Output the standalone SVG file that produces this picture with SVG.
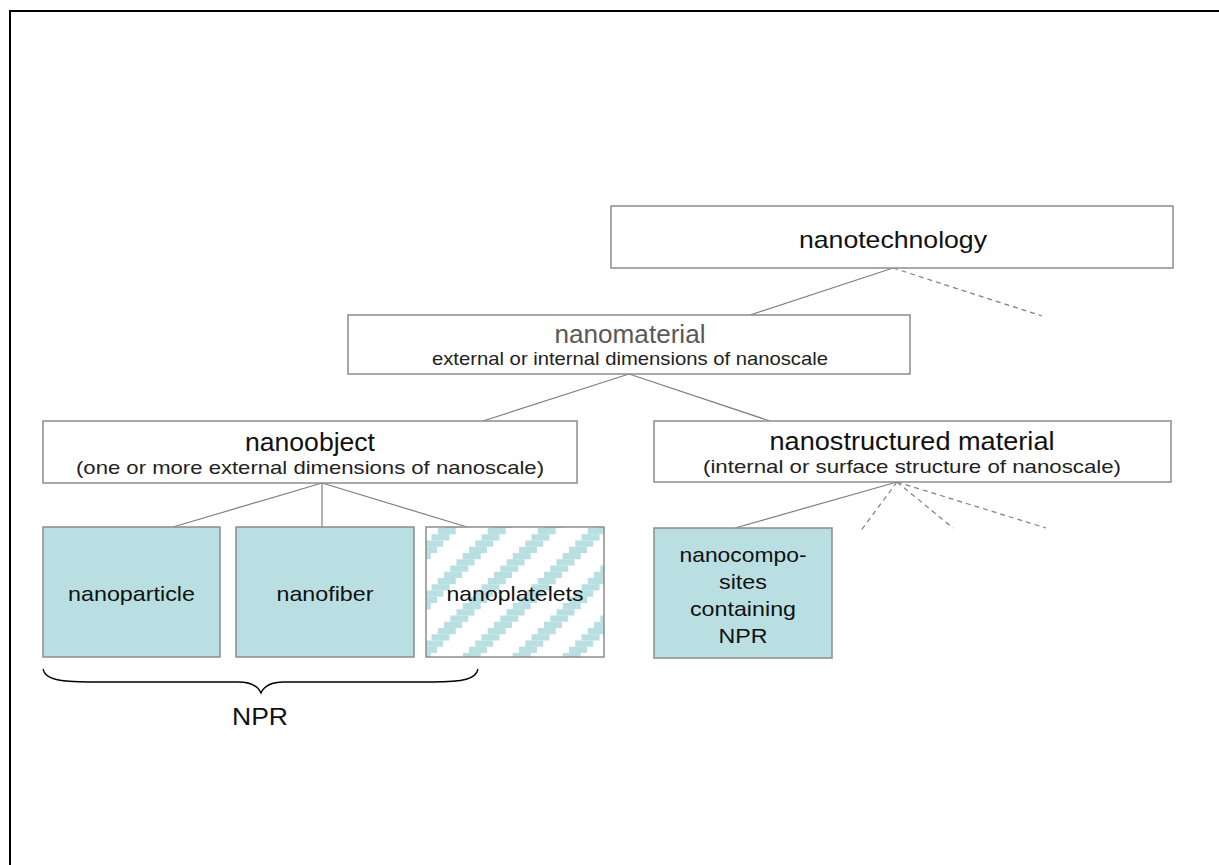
<svg xmlns="http://www.w3.org/2000/svg" width="1219" height="865" viewBox="0 0 1219 865">
  <style>
    text { font-family: "Liberation Sans", Arial, sans-serif; fill: #111; text-anchor: middle; }
    .box { fill: #ffffff; stroke: #8c8c8c; stroke-width: 1.5; }
    .blue { fill: #b9dfe2; stroke: #8c8c8c; stroke-width: 1.5; }
    .hatch { fill: url(#stair); stroke: #8c8c8c; stroke-width: 1.5; }
    .conn { stroke: #7f7f7f; stroke-width: 1.2; fill: none; }
    .dash { stroke: #7f7f7f; stroke-width: 1.2; fill: none; stroke-dasharray: 5 4; }
    .title { font-size: 24px; }
    .sub { font-size: 18.5px; fill: #222; }
    .lbl { font-size: 21px; }
  </style>
  <defs>
    <pattern id="stair" patternUnits="userSpaceOnUse" x="444" y="528" width="50" height="50">
      <rect x="0" y="0" width="50" height="50" fill="#ffffff"/>
      <g fill="#b9dfe2">
        <rect x="0" y="43.75" width="18" height="6.25"/>
        <rect x="6.25" y="37.5" width="18" height="6.25"/>
        <rect x="12.5" y="31.25" width="18" height="6.25"/>
        <rect x="18.75" y="25" width="18" height="6.25"/>
        <rect x="25" y="18.75" width="18" height="6.25"/>
        <rect x="31.25" y="12.5" width="18" height="6.25"/>
        <rect x="37.5" y="6.25" width="12.5" height="6.25"/>
        <rect x="0" y="6.25" width="5.5" height="6.25"/>
        <rect x="43.75" y="0" width="6.25" height="6.25"/>
        <rect x="0" y="0" width="11.75" height="6.25"/>
      </g>
    </pattern>
  </defs>

  <rect x="0" y="0" width="1219" height="865" fill="#ffffff"/>
  <g id="frame" stroke="#000" stroke-width="2" fill="none">
    <line x1="9" y1="11" x2="1219" y2="11"/>
    <line x1="10" y1="10" x2="10" y2="865"/>
  </g>

  <g id="connectors">
    <line class="conn" x1="893" y1="268" x2="750" y2="315"/>
    <line class="dash" x1="893" y1="268" x2="1042" y2="316"/>
    <line class="conn" x1="629" y1="374" x2="483" y2="421"/>
    <line class="conn" x1="629" y1="374" x2="770" y2="421"/>
    <line class="conn" x1="322" y1="483" x2="173" y2="527"/>
    <line class="conn" x1="322" y1="483" x2="322" y2="527"/>
    <line class="conn" x1="322" y1="483" x2="467" y2="527"/>
    <line class="conn" x1="897" y1="482" x2="735" y2="528"/>
    <line class="dash" x1="897" y1="482" x2="860" y2="532"/>
    <line class="dash" x1="897" y1="482" x2="953" y2="528"/>
    <line class="dash" x1="897" y1="482" x2="1046" y2="528"/>
  </g>

  <g id="nanotechnology">
    <rect class="box" x="611" y="206" width="562" height="62"/>
    <text class="title" x="893" y="248" textLength="188" lengthAdjust="spacingAndGlyphs">nanotechnology</text>
  </g>

  <g id="nanomaterial">
    <rect class="box" x="348" y="315" width="562" height="59"/>
    <text x="630" y="343" style="font-size:26px;fill:#595959" textLength="151" lengthAdjust="spacingAndGlyphs">nanomaterial</text>
    <text class="sub" x="630" y="365" textLength="396" lengthAdjust="spacingAndGlyphs">external or internal dimensions of nanoscale</text>
  </g>

  <g id="nanoobject">
    <rect class="box" x="43" y="421" width="534" height="62"/>
    <text class="title" x="310" y="451" style="font-size:25px" textLength="130" lengthAdjust="spacingAndGlyphs">nanoobject</text>
    <text class="sub" x="310" y="474" textLength="468" lengthAdjust="spacingAndGlyphs">(one or more external dimensions of nanoscale)</text>
  </g>

  <g id="nanostructured">
    <rect class="box" x="654" y="421" width="517" height="61"/>
    <text class="title" x="912" y="450" style="font-size:25px" textLength="285" lengthAdjust="spacingAndGlyphs">nanostructured material</text>
    <text class="sub" x="912" y="473" textLength="418" lengthAdjust="spacingAndGlyphs">(internal or surface structure of nanoscale)</text>
  </g>

  <g id="nanoparticle">
    <rect class="blue" x="43" y="527" width="177" height="130"/>
    <text class="lbl" x="131.5" y="601" textLength="127" lengthAdjust="spacingAndGlyphs">nanoparticle</text>
  </g>

  <g id="nanofiber">
    <rect class="blue" x="236" y="527" width="178" height="130"/>
    <text class="lbl" x="325" y="601" textLength="97" lengthAdjust="spacingAndGlyphs">nanofiber</text>
  </g>

  <g id="nanoplatelets">
    <rect class="hatch" x="426" y="527" width="178" height="130"/>
    <text class="lbl" x="515" y="601" textLength="137" lengthAdjust="spacingAndGlyphs">nanoplatelets</text>
  </g>

  <g id="nanocomposites">
    <rect class="blue" x="654" y="528" width="178" height="130"/>
    <text class="lbl" x="743" y="562" textLength="127" lengthAdjust="spacingAndGlyphs">nanocompo-</text>
    <text class="lbl" x="743" y="589" textLength="48" lengthAdjust="spacingAndGlyphs">sites</text>
    <text class="lbl" x="743" y="616" textLength="106" lengthAdjust="spacingAndGlyphs">containing</text>
    <text class="lbl" x="743" y="643" textLength="49" lengthAdjust="spacingAndGlyphs">NPR</text>
  </g>

  <g id="npr-brace">
    <path d="M43,669 C45,679 58,682 90,682 L238,682 C252,682 258,686 261,693 C264,686 270,682 284,682 L432,682 C464,682 476,679 478,669" fill="none" stroke="#000" stroke-width="1.3"/>
    <text x="260" y="725" style="font-size:24px" textLength="56" lengthAdjust="spacingAndGlyphs">NPR</text>
  </g>
</svg>
